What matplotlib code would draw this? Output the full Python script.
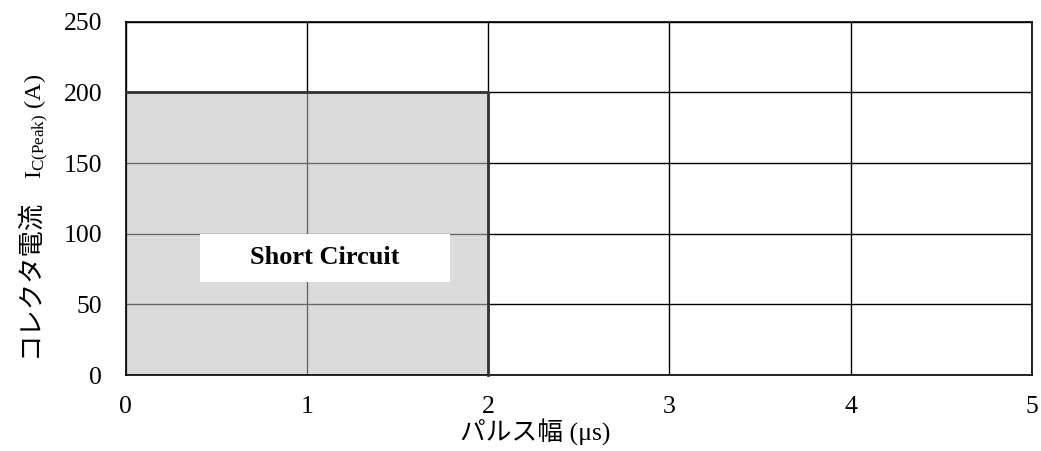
import matplotlib
matplotlib.use("Agg")
import matplotlib.pyplot as plt
from matplotlib.patches import Rectangle

plt.rcParams['font.family'] = ['Liberation Serif', 'Noto Sans CJK JP']
plt.rcParams['mathtext.fontset'] = 'custom'
plt.rcParams['mathtext.rm'] = 'Liberation Serif'
plt.rcParams['mathtext.it'] = 'Liberation Serif:italic'

# Data
x_ticks = [0, 1, 2, 3, 4, 5]
y_ticks = [0, 50, 100, 150, 200, 250]
sc_pulse_width = 2      # µs, short-circuit region width
sc_peak_current = 200   # A, short-circuit region height
label_text = "Short Circuit"
label_pos = (1.1, 83)
label_box = (0.41, 66, 1.38, 34)   # x, y, width, height of the white label box
xlabel_text = "パルス幅 (μs)"
ylabel_jp = "コレクタ電流"
ylabel_sym = r"I$_{\mathregular{C(Peak)}}$ (A)"

W, H = 1041, 451
fig = plt.figure(figsize=(W / 100, H / 100), dpi=100)
ax = fig.add_axes([125.7 / W, (H - 375) / H, (1031.7 - 125.7) / W, (375 - 21.7) / H])
ax.set_xlim(0, 5)
ax.set_ylim(0, 250)
ax.set_xticks(x_ticks)
ax.set_yticks(y_ticks)
ax.grid(True, color='black', linewidth=1.0, zorder=1)
ax.set_axisbelow(True)
ax.tick_params(axis='both', length=0, labelsize=18.5, pad=17)
ax.tick_params(axis='x', pad=15)
for s in ax.spines.values():
    s.set_linewidth(1.2)
    s.set_color('black')

ax.add_patch(Rectangle((0, 0), sc_pulse_width, sc_peak_current,
                       facecolor=(0.75, 0.75, 0.75, 0.55), edgecolor='none', zorder=2))
ax.plot([0, sc_pulse_width, sc_pulse_width], [sc_peak_current, sc_peak_current, 0],
        color='#333333', linewidth=2.0, zorder=3, clip_on=False)

ax.add_patch(Rectangle(label_box[:2], label_box[2], label_box[3],
                       facecolor='white', edgecolor='none', zorder=4))
ax.text(label_pos[0], label_pos[1], label_text, ha='center', va='center',
        fontsize=19, fontweight='bold', zorder=5)

# x label (offset left of axes centre, as in the reference)
fig.text(535.5 / W, (H - 441) / H, xlabel_text, ha='center', va='baseline', fontsize=18.5)

# y label built from two pieces so CJK and the subscript both render
fig.text(36 / W, (H - 357) / H, ylabel_jp, rotation=90, rotation_mode='anchor',
         ha='left', va='baseline', fontsize=19, family=['Noto Sans CJK JP'])
fig.text(42 / W, (H - 179) / H, ylabel_sym, rotation=90, rotation_mode='anchor',
         ha='left', va='baseline', fontsize=17.5, family=['Liberation Serif'])

fig.savefig("out.png", dpi=100)
